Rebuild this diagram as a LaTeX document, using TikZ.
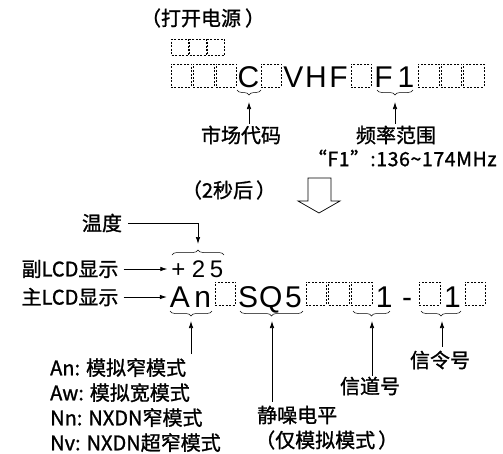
\documentclass[tikz,border=0pt]{standalone}
\usepackage{fontspec}
\setmainfont{Noto Sans CJK SC}[FakeBold=1.2]
\newfontfamily\lcdfont{Liberation Sans}
\usepackage{xcolor}
\usepackage{tikz}
\usetikzlibrary{arrows.meta, decorations.pathreplacing}

\begin{document}
\begin{tikzpicture}[x=1pt, y=-1pt,
        lcdchar/.style={font=\lcdfont\fontsize{30}{30}\selectfont, inner sep=0pt, anchor=base},
        subchar/.style={font=\lcdfont\fontsize{24}{24}\selectfont, inner sep=0pt, anchor=base},
        lcdbox/.style={draw, dash pattern=on 2pt off 1.5pt, line width=0.5pt,
                       minimum width=20.5pt, minimum height=23pt, inner sep=0pt, anchor=south},
        smallbox/.style={draw, dash pattern=on 2pt off 1.5pt, line width=0.5pt,
                         minimum width=17pt, minimum height=16pt, inner sep=0pt},
        lbl/.style={font=\fontsize{20}{25}\selectfont, inner xsep=5pt, inner ysep=0pt},
        brc/.style={decorate, decoration={brace, amplitude=5pt}, line width=0.5pt},
        arr/.style={-{Latex[length=7pt, width=4.5pt]}, line width=0.7pt}
    ]
        \useasboundingbox (0,0) rectangle (503,453);

        % power on
        \node[lbl] (power) at (203,18) {（打开电源\hspace{4pt}）};
        \node[smallbox] (s0) at (180,47) {}; \node[smallbox] (s1) at (198,47) {};
        \node[smallbox] (s2) at (216,47) {};
        \node[lcdbox] (t0) at (181,87) {};  \node[lcdbox] (t1) at (203.5,87) {};
        \node[lcdbox] (t2) at (226,87) {};  \node[lcdchar] (t3) at (248.5,87) {C};
        \node[lcdbox] (t4) at (271,87) {};  \node[lcdchar] (t5) at (293.5,87) {V};
        \node[lcdchar] (t6) at (316,87) {H}; \node[lcdchar] (t7) at (338.5,87) {F};
        \node[lcdbox] (t8) at (361,87) {};  \node[lcdchar] (t9) at (383.5,87) {F};
        \node[lcdchar] (t10) at (406,87) {1}; \node[lcdbox] (t11) at (428.5,87) {};
        \node[lcdbox] (t12) at (451,87) {}; \node[lcdbox] (t13) at (473.5,87) {};

        \draw[brc, decoration={mirror}] (237,90) -- (261,90);
        \draw[brc, decoration={mirror}] (377,90) -- (413,90);
        \coordinate (tipC) at (249,102);
        \coordinate (tipF) at (395,102);
        \node[lbl] (mkt)   at (241,135) {市场代码};
        \node[lbl] (freq)  at (396,135) {频率范围};
        \node[lbl, font=\fontsize{19.5}{22}\selectfont\addfontfeatures{LetterSpace=3}] (range)
            at (402,158) {“F1”:136\textasciitilde174MHz};
        \draw[arr, shorten <=2pt] (tipC |- mkt.north) -- (tipC);
        \draw[arr, shorten <=2pt] (tipF |- freq.north) -- (tipF);

        % after 2 s
        \node[lbl] (delay) at (229,190) {（2秒后\hspace{3pt}）};
        \draw[line width=0.7pt] (308,178) -- (308,201) -- (298,201) -- (319,213)
            -- (340,201) -- (331,201) -- (331,178) -- cycle;

        % sub LCD
        \node[lbl] (temp) at (102,223) {温度};
        \node[lbl] (sub)  at (70,269) {副LCD显示};
        \node[subchar] (p0) at (178.5,277) {+};
        \node[subchar] (p1) at (198.5,277) {2};
        \node[subchar] (p2) at (216.5,277) {5};
        \draw[brc] (172,255) -- (224,255);
        \coordinate (tipTemp) at (198,244);
        \draw[arr, shorten <=1pt] (temp.east) -| (tipTemp);
        \draw[arr, shorten >=4pt] (sub.east) -- (sub.east -| p0.west);

        % main LCD
        \node[lbl] (main) at (70,297) {主LCD显示};
        \node[lcdchar] (m0) at (180,307) {A};   \node[lcdchar] (m1) at (202.7,307) {n};
        \node[lcdbox] (m2) at (225.4,305) {};   \node[lcdchar] (m3) at (248.1,307) {S};
        \node[lcdchar] (m4) at (270.8,307) {Q}; \node[lcdchar] (m5) at (293.5,307) {5};
        \node[lcdbox] (m6) at (316.2,305) {};   \node[lcdbox] (m7) at (338.9,305) {};
        \node[lcdbox] (m8) at (361.6,305) {};   \node[lcdchar] (m9) at (384.3,307) {1};
        \node[lcdchar] (m10) at (407,307) {-};  \node[lcdbox] (m11) at (429.7,305) {};
        \node[lcdchar] (m12) at (452.4,307) {1}; \node[lcdbox] (m13) at (475.1,305) {};
        \draw[arr, shorten >=3pt] (main.east) -- (main.east -| m0.west);

        \draw[brc, decoration={mirror}] (170,311) -- (212,311);
        \draw[brc, decoration={mirror}] (240,311) -- (303,311);
        \draw[brc, decoration={mirror}] (353,311) -- (390,311);
        \draw[brc, decoration={mirror}] (421,311) -- (461,311);
        \coordinate (tipAn)  at (191,321);
        \coordinate (tipSq)  at (272,321);
        \coordinate (tipCh)  at (372,321);
        \coordinate (tipSig) at (442,321);

        \node[lbl, align=left, anchor=north west] (modes) at (45,358)
            {An: 模拟窄模式\\Aw: 模拟宽模式\\Nn: NXDN窄模式\\Nv: NXDN超窄模式};
        \node[lbl, anchor=west] (sq)   at (252,415) {静噪电平};
        \node[lbl, anchor=west] (sqan) at (250,440) {（仅模拟模式\hspace{3pt}）};
        \node[lbl] (chan) at (370,386) {信道号};
        \node[lbl] (sig)  at (440,360) {信令号};
        \draw[arr, shorten <=4pt] (tipAn |- modes.north) -- (tipAn);
        \draw[arr, shorten <=4pt] (tipSq |- sq.north) -- (tipSq);
        \draw[arr, shorten <=1pt] (tipCh |- chan.north) -- (tipCh);
        \draw[arr, shorten <=4pt] (tipSig |- sig.north) -- (tipSig);
    \end{tikzpicture}
\end{document}
